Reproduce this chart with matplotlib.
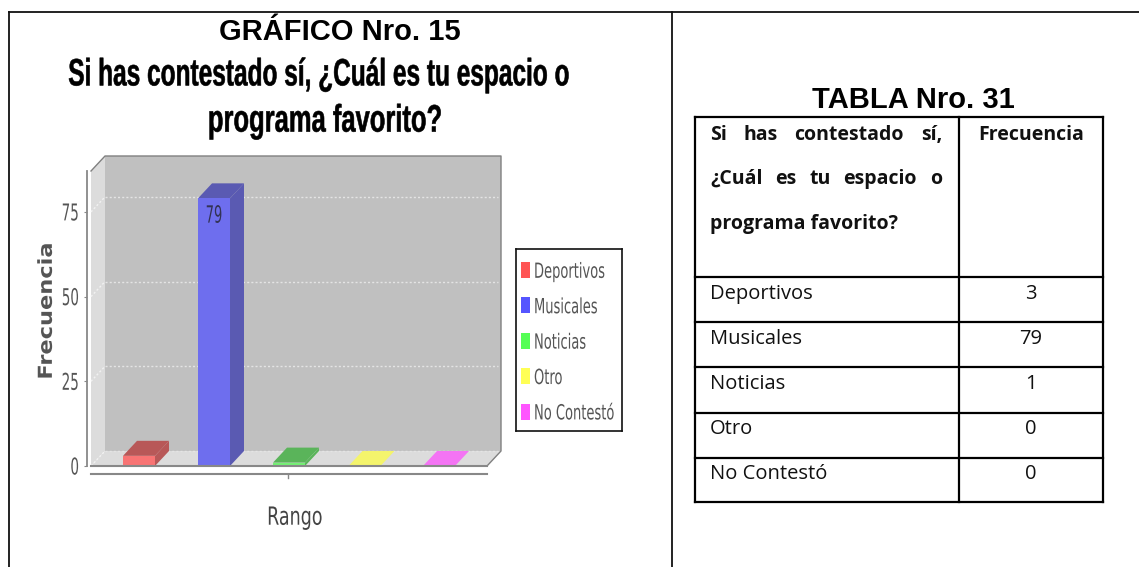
import matplotlib
matplotlib.use('Agg')
import matplotlib.pyplot as plt
from matplotlib.patches import Polygon, Rectangle
from matplotlib.lines import Line2D
from matplotlib.patheffects import AbstractPathEffect
from matplotlib.transforms import Affine2D

# data
categories = ['Deportivos', 'Musicales', 'Noticias', 'Otro', 'No Contestó']
values = [3, 79, 1, 0, 0]
yticks = [0, 25, 50, 75]
front_colors = ['#f87474', '#6e6eee', '#74f074', '#f4f46c', '#f474f4']
dark_colors = ['#b85858', '#5a5ab2', '#5ab45a', '#b8b850', '#b850b8']
legend_colors = ['#ff5555', '#5555ff', '#55ff55', '#ffff55', '#ff55ff']
table_header = ['Si has contestado sí,', '¿Cuál es tu espacio o', 'programa favorito?']

W, H = 1139, 567
fig = plt.figure(figsize=(W / 100, H / 100), dpi=100)


class Stretch(AbstractPathEffect):
    # the source image has tall squashed text, no narrow font is installed.
    # stretch glyphs about the middle of the capitals (text paths are in 100 unit em)
    def __init__(self, sy, stroke=0):
        super().__init__()
        self.sy = sy
        self.stroke = stroke

    def draw_path(self, renderer, gc, tpath, affine, rgbFace=None):
        stretch = Affine2D().translate(0, -36).scale(1, self.sy).translate(0, 36)
        if self.stroke:
            gc.set_linewidth(self.stroke)
            gc.set_foreground(rgbFace)
        renderer.draw_path(gc, tpath, stretch + affine, rgbFace)


def fx(px):
    return px / W


def fy(py):
    return 1 - py / H


def hline(x0, x1, y, color='#111111', lw=1.3):
    fig.add_artist(Line2D([fx(x0), fx(x1)], [fy(y), fy(y)], color=color, lw=lw, solid_capstyle='projecting'))


def vline(x, y0, y1, color='#111111', lw=1.3):
    fig.add_artist(Line2D([fx(x), fx(x)], [fy(y0), fy(y1)], color=color, lw=lw, solid_capstyle='projecting'))


def put(px, py, s, **kw):
    sy = kw.pop('sy', None)
    stroke = kw.pop('stroke', 0)
    kw.setdefault('va', 'center')
    kw.setdefault('ha', 'center')
    t = fig.text(fx(px), fy(py), s, **kw)
    if sy:
        t.set_path_effects([Stretch(sy, stroke)])
    return t


# outer frame of the page table
hline(9, 1139, 12)
vline(9, 12, 567)
vline(672, 12, 567)

put(340, 32, 'GRÁFICO Nro. 15', fontsize=21, fontweight='bold', family='Liberation Sans')
put(319, 74, 'Si has contestado sí, ¿Cuál es tu espacio o', fontsize=17.6, fontweight='bold',
    family='Liberation Sans', color='black', sy=1.56, stroke=0.4)
put(325, 120, 'programa favorito?', fontsize=18.4, fontweight='bold',
    family='Liberation Sans', color='black', sy=1.5, stroke=0.4)

# chart, front plane of the fake 3d box
left, right, top, bottom = 91, 487, 171, 466
ax = fig.add_axes([fx(left), fy(bottom), (right - left) / W, (bottom - top) / H])
px_per_unit = 84.7 / 25
ax.set_xlim(left, right)
ax.set_ylim(0, (bottom - top) / px_per_unit)
ax.set_facecolor('none')
for s in ax.spines.values():
    s.set_visible(False)

dx = 14
dy = 15 / px_per_unit
ymax = ax.get_ylim()[1]
# back wall, left wall and floor
ax.add_patch(Polygon([(left + dx, dy), (right + dx, dy), (right + dx, ymax + dy), (left + dx, ymax + dy)],
                     closed=True, fc='#c0c0c0', ec='none', clip_on=False, zorder=1))
ax.add_patch(Polygon([(left, 0), (left + dx, dy), (left + dx, ymax + dy), (left, ymax)],
                     closed=True, fc='#dcdcdc', ec='none', clip_on=False, zorder=1))
ax.add_patch(Polygon([(left, 0), (right, 0), (right + dx, dy), (left + dx, dy)],
                     closed=True, fc='#dcdcdc', ec='none', clip_on=False, zorder=1))
# box edges: top left diagonal, top, right, bottom right diagonal
ax.plot([left, left + dx, right + dx, right + dx, right], [ymax, ymax + dy, ymax + dy, dy, 0],
        color='#808080', lw=1, clip_on=False, zorder=2)
for t in yticks:
    ax.plot([left + dx, right + dx - 3], [t + dy, t + dy], color='#e4e4e4', lw=1, ls=(0, (1.5, 1.5)),
            clip_on=False, zorder=2)
    ax.plot([left, left + dx], [t, t + dy], color='#f2f2f2', lw=1, ls=(0, (1.5, 1.5)),
            clip_on=False, zorder=2)

# bars
centers = [139, 214, 289, 364.5, 439]
bw = 32
ax.bar(centers, values, width=bw, color=front_colors, zorder=4, clip_on=False)
for c, v, col, dark in zip(centers, values, front_colors, dark_colors):
    x0, x1 = c - bw / 2, c + bw / 2
    ax.add_patch(Polygon([(x0, v), (x1, v), (x1 + dx, v + dy), (x0 + dx, v + dy)], closed=True,
                         fc=col if v == 0 else dark, ec='none', clip_on=False, zorder=3))
    if v > 0:
        ax.add_patch(Polygon([(x1, 0), (x1 + dx, dy), (x1 + dx, v + dy), (x1, v)], closed=True,
                             fc=dark, ec='none', clip_on=False, zorder=3))

bar_label = ax.text(centers[1], values[1] - 5, str(values[1]), ha='center', va='center', fontsize=9.4,
                    color='#333355', zorder=5)
bar_label.set_path_effects([Stretch(1.82)])

# axis lines
ax.set_xticks([])
ax.set_yticks(yticks)
ax.spines['left'].set_visible(True)
ax.spines['left'].set_position(('outward', 3.2))
ax.spines['left'].set_color('#888888')
ax.spines['left'].set_linewidth(1.3)
ax.spines['left'].set_bounds(0, ymax)
ax.tick_params(axis='y', length=2.5, color='#888888', labelcolor='#555555', labelsize=9.7, pad=3)
for lab in ax.get_yticklabels():
    lab.set_path_effects([Stretch(1.72)])
ax.plot([left, right], [-2.3, -2.3], color='#888888', lw=1.5, clip_on=False)
ax.plot([left, right], [0, 0], color='#888888', lw=1.5, clip_on=False, zorder=5)
ax.plot([288, 288], [-2.3, -3.4], color='#888888', lw=1, clip_on=False)

put(47, 311, 'Frecuencia', rotation=90, fontsize=16.2, color='#555555', fontweight='bold', sy=0.86)
put(295, 517, 'Rango', fontsize=12.6, color='#444444', sy=1.43)

# legend
leg_ax = fig.add_axes([fx(516), fy(431), 106 / W, 182 / H])
leg_ax.set_xlim(516, 622)
leg_ax.set_ylim(431, 249)
leg_ax.set_xticks([])
leg_ax.set_yticks([])
for s in leg_ax.spines.values():
    s.set_color('#111111')
    s.set_linewidth(1.2)
for i, (name, col) in enumerate(zip(categories, legend_colors)):
    yc = 270 + 35.4 * i
    leg_ax.add_patch(Rectangle((521, yc - 8), 9, 16, fc=col, ec='none'))
    t = leg_ax.text(534, yc + 1.5, name, va='center', ha='left', fontsize=9.4, color='#555555')
    t.set_path_effects([Stretch(1.6)])

# right side table
put(913, 100, 'TABLA Nro. 31', fontsize=21, fontweight='bold', family='Liberation Sans')
row_lines = [117, 277, 322, 367, 413, 458, 502]
for y in row_lines:
    hline(695, 1103, y, color='black', lw=1.6)
for x in [695, 959, 1103]:
    vline(x, 117, 502, color='black', lw=1.6)

# the first two header lines are justified between 710 and 942
renderer = fig.canvas.get_renderer()
for y, line in zip([135, 179], table_header[:2]):
    words = line.split()
    artists = [put(710, y, w, ha='left', fontsize=14, fontweight='bold', family='Open Sans', color='#111111')
               for w in words]
    widths = [a.get_window_extent(renderer).width for a in artists]
    gap = (942 - 710 - sum(widths)) / (len(words) - 1)
    x = 710
    for a, w in zip(artists, widths):
        a.set_x(fx(x))
        x += w + gap
put(710, 224, table_header[2], ha='left', fontsize=14, fontweight='bold', family='Open Sans', color='#111111')
put(1031, 135, 'Frecuencia', fontsize=14, fontweight='bold', family='Open Sans', color='#111111')
for i, (name, v) in enumerate(zip(categories, values)):
    y = 294 + 45 * i
    put(710, y, name, ha='left', fontsize=14.5, family='Open Sans', color='#111111')
    put(1031, y, str(v), fontsize=14.5, family='Open Sans', color='#111111')

fig.savefig('out.png', dpi=100)
plt.close(fig)
